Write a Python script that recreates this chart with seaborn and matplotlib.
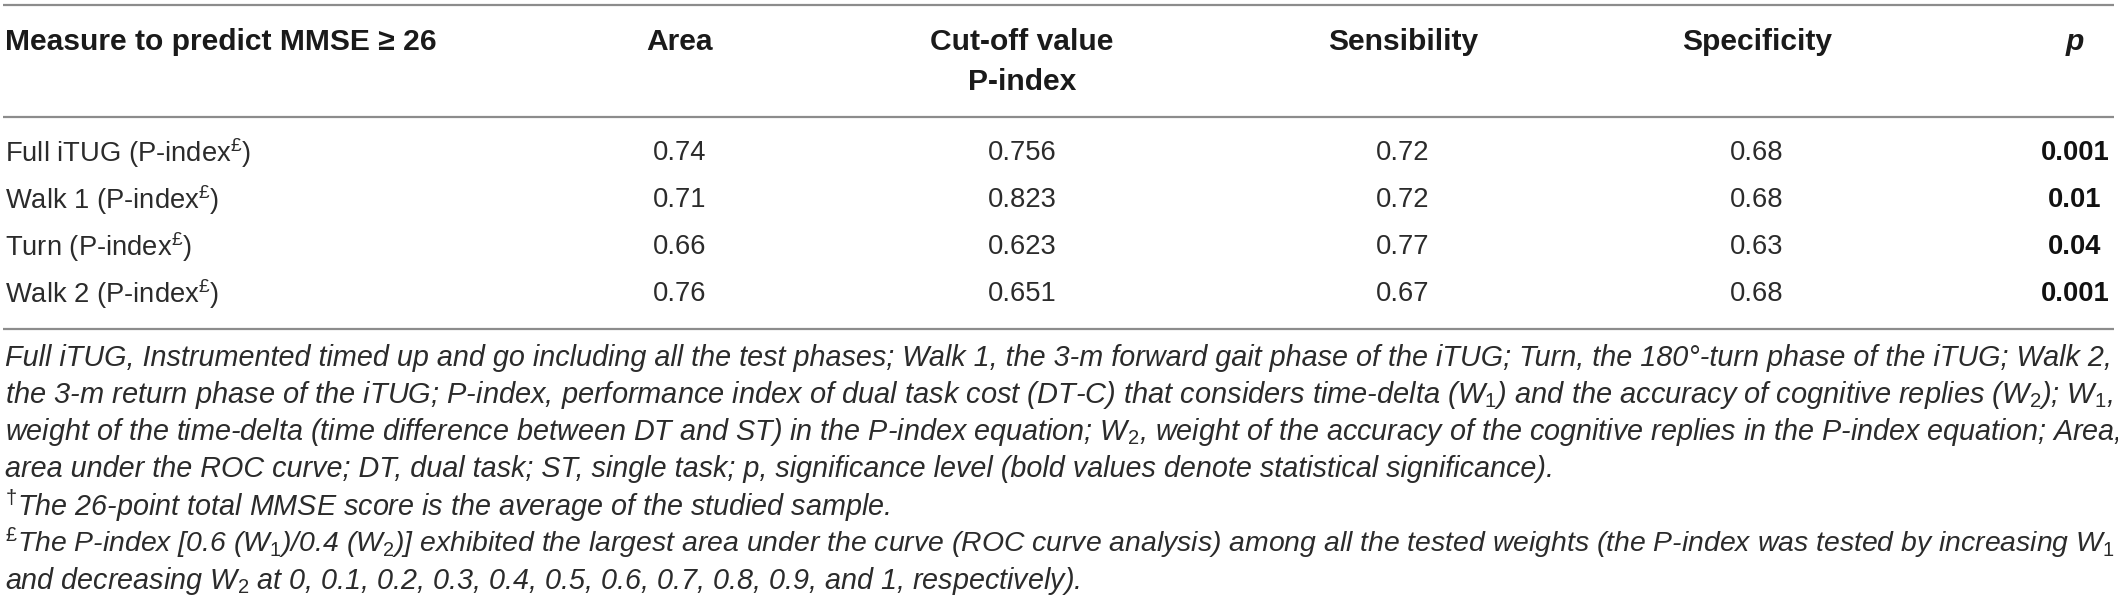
import seaborn as sns
import matplotlib.pyplot as plt

sns.set_theme(style='white')
plt.rcParams['font.family'] = ['Liberation Sans', 'DejaVu Sans']
plt.rcParams['mathtext.fontset'] = 'custom'
plt.rcParams['mathtext.rm'] = 'Liberation Sans'
plt.rcParams['mathtext.it'] = 'Liberation Sans:italic'
plt.rcParams['mathtext.bf'] = 'Liberation Sans:bold'

# table data
measures = ['Full iTUG', 'Walk 1', 'Turn', 'Walk 2']
area = ['0.74', '0.71', '0.66', '0.76']
cutoff = ['0.756', '0.823', '0.623', '0.651']
sensibility = ['0.72', '0.72', '0.77', '0.67']
specificity = ['0.68', '0.68', '0.63', '0.68']
p_values = ['0.001', '0.01', '0.04', '0.001']

headers = ['Measure to predict MMSE ≥ 26', 'Area', 'Cut-off value', 'Sensibility', 'Specificity', 'p']

footnotes = [
    'Full iTUG, Instrumented timed up and go including all the test phases; Walk 1, the 3-m forward gait phase of the iTUG; Turn, the 180°-turn phase of the iTUG; Walk 2,',
    'the 3-m return phase of the iTUG; P-index, performance index of dual task cost (DT-C) that considers time-delta (W$_{1}$) and the accuracy of cognitive replies (W$_{2}$); W$_{1}$,',
    'weight of the time-delta (time difference between DT and ST) in the P-index equation; W$_{2}$, weight of the accuracy of the cognitive replies in the P-index equation; Area,',
    'area under the ROC curve; DT, dual task; ST, single task; p, significance level (bold values denote statistical significance).',
    '$^{\\mathrm{†}}$The 26-point total MMSE score is the average of the studied sample.',
    '$^{\\mathrm{£}}$The P-index [0.6 (W$_{1}$)/0.4 (W$_{2}$)] exhibited the largest area under the curve (ROC curve analysis) among all the tested weights (the P-index was tested by increasing W$_{1}$',
    'and decreasing W$_{2}$ at 0, 0.1, 0.2, 0.3, 0.4, 0.5, 0.6, 0.7, 0.8, 0.9, and 1, respectively).',
]
justified = [True, True, True, False, False, True, False]

# layout (pixels)
col_x = [5, 680, 1022, 1403, 1757, 2075]
row_y = [153, 200, 247, 294]
foot_y = [358, 395, 432, 469, 506, 543, 581]
text_c = '#2b2b2b'
head_c = '#1a1a1a'
rule_c = '#8c8c8c'

fig = plt.figure(figsize=(21.18, 6.02), dpi=100)
ax = fig.add_axes([0, 0, 1, 1])
ax.set_xlim(0, 2118)
ax.set_ylim(602, 0)
ax.axis('off')

for y in [5, 117, 329]:
    ax.plot([3, 2114], [y, y], color=rule_c, lw=1.6, solid_capstyle='butt')

fig.canvas.draw()
r = fig.canvas.get_renderer()


def fit_size(t, base, target):
    w = t.get_window_extent(r).width
    return base * target / w


# header, size fitted to the first header's width
h0 = ax.text(col_x[0], 42, headers[0], ha='left', va='center', fontsize=18, weight='bold', color=head_c)
hs = fit_size(h0, 18, 432)
h0.set_fontsize(hs)
for x, h in zip(col_x[1:-1], headers[1:-1]):
    ax.text(x, 42, h, ha='center', va='center', fontsize=hs, weight='bold', color=head_c)
ax.text(col_x[2], 82, 'P-index', ha='center', va='center', fontsize=hs, weight='bold', color=head_c)
ax.text(col_x[-1], 42, headers[-1], ha='center', va='center', fontsize=hs, weight='bold',
        style='italic', color=head_c)

# body, size fitted to the first row label
labels = [m + ' (P-index$^{\\mathrm{£}}$)' for m in measures]
b0 = ax.text(col_x[0], row_y[0], labels[0], ha='left', va='center', fontsize=19, color=text_c)
bs = fit_size(b0, 19, 246)
b0.set_fontsize(bs)
for i, y in enumerate(row_y):
    if i > 0:
        ax.text(col_x[0], y, labels[i], ha='left', va='center', fontsize=bs, color=text_c)
    for x, col in zip(col_x[1:5], [area, cutoff, sensibility, specificity]):
        ax.text(x, y, col[i], ha='center', va='center', fontsize=bs, color=text_c)
    ax.text(col_x[5], y, p_values[i], ha='center', va='center', fontsize=bs, weight='bold', color='#111111')

# footnotes, justified lines scaled to the full width
base = 16.5
texts = []
for y, line in zip(foot_y, footnotes):
    t = ax.text(5, y, line, ha='left', va='center', fontsize=base, style='italic', color=text_c)
    texts.append(t)
sizes = [fit_size(t, base, 2108) for t, j in zip(texts, justified) if j]
fit = sum(sizes) / len(sizes)
for t, j in zip(texts, justified):
    t.set_fontsize(fit_size(t, base, 2108) if j else fit)

fig.savefig('out.png', dpi=100)
